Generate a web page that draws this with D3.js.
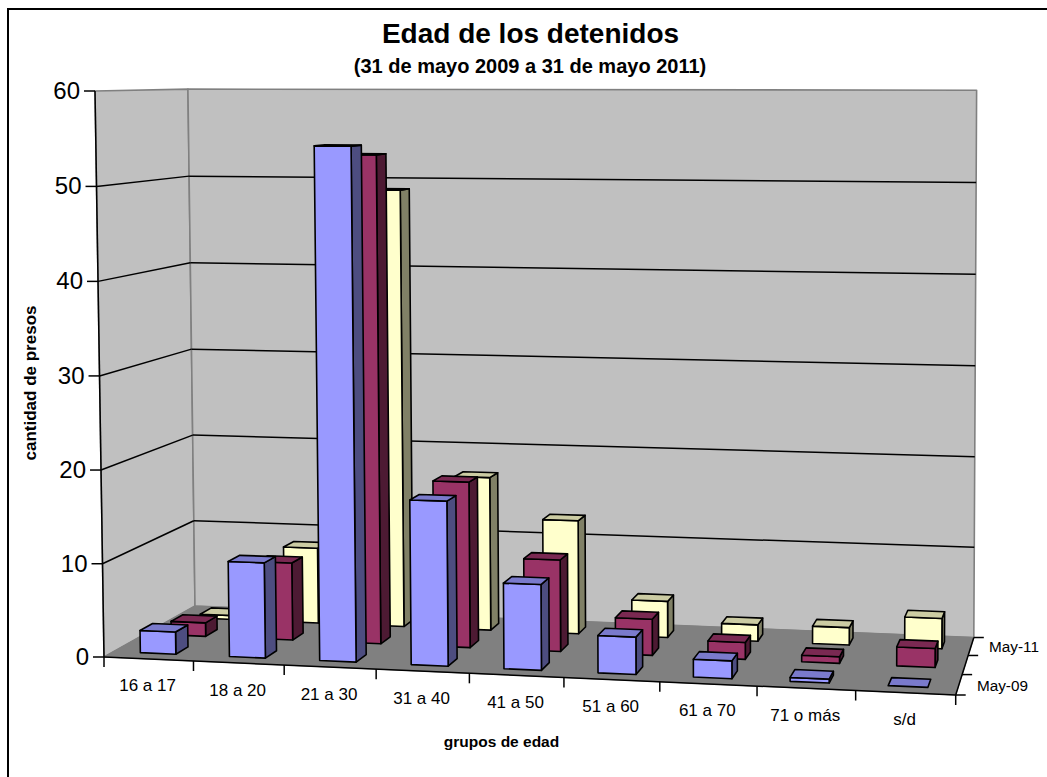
<!DOCTYPE html>
<html><head><meta charset="utf-8">
<script src="https://cdn.jsdelivr.net/npm/d3@7/dist/d3.min.js"></script>
<style>html,body{margin:0;padding:0;background:#fff}svg{display:block}text{font-family:"Liberation Sans",Arial,sans-serif;fill:#000}</style>
</head><body><div id="c"></div>
<script>
const categories=["16 a 17","18 a 20","21 a 30","31 a 40","41 a 50","51 a 60","61 a 70","71 o más","s/d"];
const seriesNames=["May-09","May-10","May-11"];
const depthTickLabels=["May-09","","May-11"];
const valueTicks=[0,10,20,30,40,50,60];
const may09=[2.4,10.2,54.3,17.4,9,3.9,1.85,0.4,0];
const may10=[1.5,8.5,53.1,18,9.9,3.9,1.8,0.7,2];
const may11=[0.45,8.5,48.9,17.1,12.6,4,1.8,1.9,3.3];
const seriesValues=[may09,may10,may11];
const faceColors=[["#9999FF","#4D4D80","#7A7ACC"],["#993366","#4D1A33","#7A2952"],["#FFFFCC","#808066","#CCCCA3"]];

const W=1047,H=777;
const svg=d3.select("#c").append("svg").attr("width",W).attr("height",H);
const xCat=d3.scaleBand().domain(categories).range([0,1]).paddingInner(0.6).paddingOuter(0.3);
const xEdge=d3.scaleLinear().domain([0,categories.length]).range([0,1]);
const yVal=d3.scaleLinear().domain([0,60]).range([0,1]);
const zSer=d3.scaleBand().domain(seriesNames).range([0,1]).paddingInner(0.6).paddingOuter(0.3);
const zEdge=d3.scaleLinear().domain([0,seriesNames.length]).range([0,1]);

// perspective camera for the unit box
const O=[104,657],PX=[955.7,695],PY=[95,91],PZ=[195,606];
const i_=-0.0608,j_=-0.0135,k_=0.095;
function project(x,y,z){
  const w=1+i_*x+j_*y+k_*z;
  const a=(c)=>PX[c]*(1+i_)-O[c],b=(c)=>PY[c]*(1+j_)-O[c],d=(c)=>PZ[c]*(1+k_)-O[c];
  return [(O[0]+a(0)*x+b(0)*y+d(0)*z)/w,(O[1]+a(1)*x+b(1)*y+d(1)*z)/w];
}
const poly=d3.line();
function face(pts,fill,stroke,sw){
  svg.append("path").attr("d",poly(pts.map(p=>project(...p)))+"Z").attr("fill",fill)
    .attr("stroke",stroke||"none").attr("stroke-width",sw||0).attr("stroke-linejoin","round");
}
function seg(a,b,stroke,sw){
  const p=project(...a),q=project(...b);
  svg.append("line").attr("x1",p[0]).attr("y1",p[1]).attr("x2",q[0]).attr("y2",q[1]).attr("stroke",stroke).attr("stroke-width",sw);
}
function segOff(a,dx,dy,stroke,sw){
  const p=project(...a);
  svg.append("line").attr("x1",p[0]).attr("y1",p[1]).attr("x2",p[0]+dx).attr("y2",p[1]+dy).attr("stroke",stroke).attr("stroke-width",sw);
}
// chart border
svg.append("rect").attr("x",8).attr("y",9).attr("width",1100).attr("height",900).attr("fill","#fff").attr("stroke","#000").attr("stroke-width",2);

// walls and floor
face([[0,0,0],[0,1,0],[0,1,1],[0,0,1]],"#C0C0C0","#808080",1.6);
face([[0,0,1],[0,1,1],[1,1,1],[1,0,1]],"#C0C0C0","#808080",1.6);
face([[0,0,0],[1,0,0],[1,0,1],[0,0,1]],"#808080","#808080",1);
// gridlines
valueTicks.slice(1,-1).forEach(v=>{
  const t=yVal(v);
  seg([0,t,0],[0,t,1],"#000",1.5);
  seg([0,t,1],[1,t,1],"#000",1.5);
});
// bars back to front
d3.range(seriesNames.length).reverse().forEach(s=>{
  const z0=zSer(seriesNames[s]),z1=z0+zSer.bandwidth();
  const [cf,cs,ct]=faceColors[s];
  categories.forEach((cat,c)=>{
    const x0=xCat(cat),x1=x0+xCat.bandwidth(),t=yVal(seriesValues[s][c]);
    const sw=1.6,k="#000";
    if(t>0){
      face([[x1,0,z0],[x1,0,z1],[x1,t,z1],[x1,t,z0]],cs,k,sw);
      face([[x0,0,z0],[x1,0,z0],[x1,t,z0],[x0,t,z0]],cf,k,sw);
    }
    face([[x0,t,z0],[x1,t,z0],[x1,t,z1],[x0,t,z1]],ct,k,sw);
  });
});
// axes
seg([0,0,0],[0,1,0],"#000",1.5);
seg([0,0,0],[1,0,0],"#000",1.5);
seg([1,0,0],[1,0,1],"#000",1.5);
valueTicks.forEach(v=>{
  const t=yVal(v);
  segOff([0,t,0],-11,0,"#000",1.5);
  const p=project(0,t,0);
  svg.append("text").attr("x",p[0]-15).attr("y",p[1]+8).attr("text-anchor","end").attr("font-size",24).text(v);
});
d3.range(categories.length+1).forEach(i=>segOff([xEdge(i),0,0],0,10,"#000",1.5));
categories.forEach(c=>{
  const p=project(xCat(c)+xCat.bandwidth()/2,0,0);
  svg.append("text").attr("x",p[0]-1).attr("y",p[1]+32.5).attr("text-anchor","middle").attr("font-size",17).text(c);
});
d3.range(seriesNames.length+1).forEach(i=>segOff([1,0,zEdge(i)],10,0,"#000",1.5));
depthTickLabels.forEach((l,i)=>{
  if(!l)return;
  const p=project(1,0,zSer(seriesNames[i])+zSer.bandwidth()/2);
  svg.append("text").attr("x",p[0]+18).attr("y",p[1]+6).attr("font-size",15.3).text(l);
});
// titles
svg.append("text").attr("x",530.5).attr("y",43).attr("text-anchor","middle").attr("font-size",28).attr("font-weight","bold").text("Edad de los detenidos");
svg.append("text").attr("x",530).attr("y",73).attr("text-anchor","middle").attr("font-size",20).attr("font-weight","bold").text("(31 de mayo 2009 a 31 de mayo 2011)");
svg.append("text").attr("x",501.5).attr("y",747).attr("text-anchor","middle").attr("font-size",15.5).attr("font-weight","bold").text("grupos de edad");
svg.append("text").attr("transform","translate(36,383) rotate(-90)").attr("text-anchor","middle").attr("font-size",17).attr("font-weight","bold").text("cantidad de presos");
</script></body></html>
